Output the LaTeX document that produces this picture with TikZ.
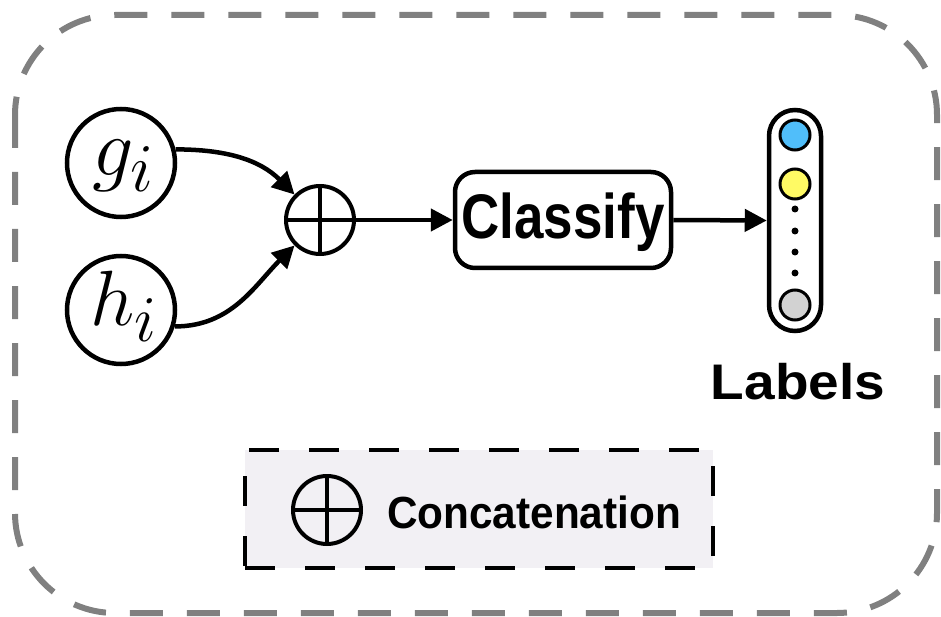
\documentclass[tikz,border=0pt]{standalone}
\usepackage{fontspec}
\setmainfont{Liberation Sans}
\usetikzlibrary{arrows.meta}
\definecolor{framegray}{RGB}{128,128,128}
\definecolor{legendfill}{RGB}{242,240,244}
\definecolor{dotblue}{RGB}{80,190,250}
\definecolor{dotyellow}{RGB}{255,250,100}
\definecolor{dotgray}{RGB}{210,210,210}
\tikzset{
  varnode/.style={circle, draw, line width=4.5pt, minimum size=108pt, inner sep=0pt},
  catnode/.style={circle, draw, line width=4pt, minimum size=68pt, inner sep=0pt},
  flow/.style={line width=4.5pt, -{Triangle[length=22pt,width=22pt]}},
  dotnode/.style={circle, draw, line width=3pt, minimum size=30pt, inner sep=0pt},
  bigword/.style={inner sep=0pt, font=\bfseries}
}
\begin{document}
\begin{tikzpicture}[x=1pt,y=-1pt]
  \useasboundingbox (0,0) rectangle (941,617);
  % outer frame
  \draw[framegray, line width=6pt, dash pattern=on 33pt off 24pt, rounded corners=100pt]
    (15,15) rectangle (937,613);

  % inputs
  \node[varnode] (g) at (121,163) {};
  \node[varnode] (h) at (121,310) {};
  \node[inner sep=0pt] (gt) at (124,166) {\Huge\scalebox{3.3}{$g_i$}};
  \node[inner sep=0pt] (ht) at (124,306) {\Huge\scalebox{3.15}{$h_i$}};

  % concatenation
  \node[catnode] (o) at (320,220) {};
  \draw[line width=4pt] (o.north) -- (o.south) (o.west) -- (o.east);

  % classifier
  \node[draw, line width=4.5pt, rounded corners=20pt, minimum width=216pt, minimum height=96pt,
        inner sep=0pt] (cls) at (563,220) {};
  \node[bigword] (clst) at (563,222) {\scalebox{0.84}[1]{\fontsize{63}{63}\selectfont Classify}};

  % label column
  \node[draw, line width=4.5pt, rounded corners=26pt, minimum width=52pt, minimum height=221pt,
        inner sep=0pt] (col) at (795,220.5) {};
  \node[dotnode, fill=dotblue] (c1) at (795,135) {};
  \node[dotnode, fill=dotyellow] (c2) at (795,184) {};
  \node[dotnode, fill=dotgray] (c3) at (795,305) {};
  \foreach \yy/\nm in {209/d1,231/d2,252/d3,273/d4}
    \node[circle, fill, minimum size=7pt, inner sep=0pt] (\nm) at (795,\yy) {};
  \node[bigword] (lbl) at (798,382) {\scalebox{1.1}[1]{\fontsize{50}{50}\selectfont Labels}};

  % connectors
  \draw[flow] (g.14) to[out=0, in=135] (o.135);
  \draw[flow] (h.-17) to[out=0, in=-135] (o.-135);
  \draw[flow] (o.east) -- (cls.west);
  \draw[flow] (cls.east) -- (col.west);

  % legend
  \node[draw, fill=legendfill, line width=4.5pt, dash pattern=on 30pt off 30pt,
        minimum width=468pt, minimum height=118pt, inner sep=0pt] (legend) at (479,509) {};
  \node[catnode] (lo) at (327,510) {};
  \draw[line width=4pt] (lo.north) -- (lo.south) (lo.west) -- (lo.east);
  \node[bigword, anchor=west] (lt) at (387,512) {\scalebox{0.94}[1]{\fontsize{45}{45}\selectfont Concatenation}};
\end{tikzpicture}
\end{document}
